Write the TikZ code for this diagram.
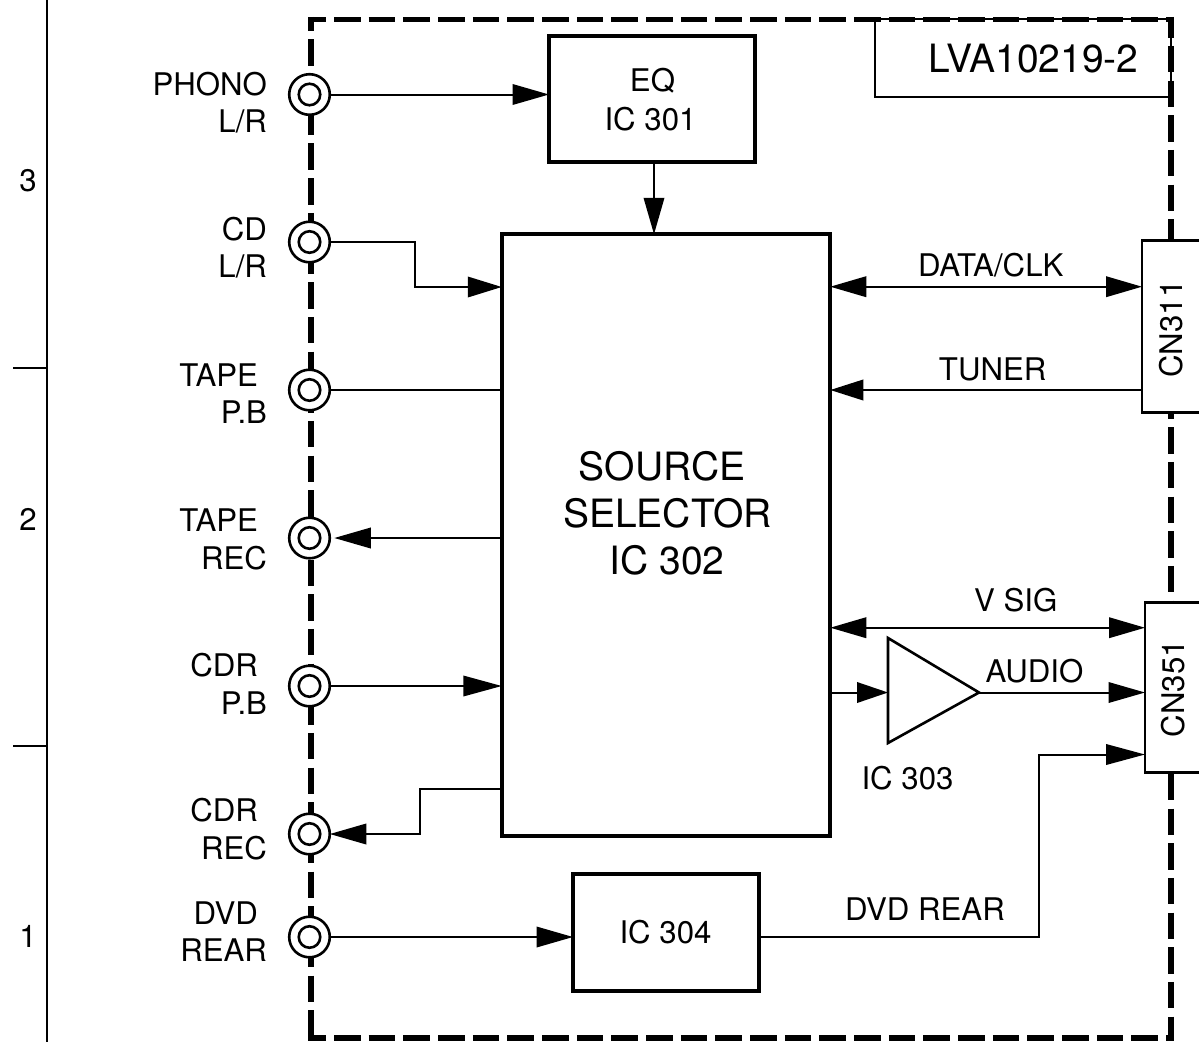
\documentclass[tikz,border=0pt]{standalone}
\usepackage{fontspec}
\setmainfont{TeX Gyre Heros}
\usetikzlibrary{arrows.meta,calc}
\tikzset{
  x=1pt,y=-1pt,
  txt/.style={inner sep=0pt,outer sep=0pt,font=\fontsize{31.2}{36}\selectfont,text=black},
  rlab/.style={txt,anchor=base east},
  clab/.style={txt,anchor=base},
  biglab/.style={txt,anchor=base,font=\fontsize{39}{44}\selectfont},
  frame/.style={line width=5.5pt,dash pattern=on 26.5pt off 8.17pt,dash phase=#1},
  heavybox/.style={draw,fill=white,line width=4pt,inner sep=0pt,outer sep=0pt,rectangle},
  thinbox/.style={draw,fill=white,line width=2.6pt,inner sep=0pt,outer sep=0pt,rectangle},
  jackout/.style={draw,circle,fill=white,line width=2.6pt,minimum size=40.6pt,inner sep=0pt,outer sep=0pt},
  jackin/.style={draw,circle,line width=2.6pt,minimum size=21.5pt,inner sep=0pt,outer sep=0pt},
  wire/.style={line width=2pt},
  sig/.style={wire,-{Triangle[length=#1,width=20.5pt]}},
  sig/.default=36.5pt,
  bisig/.style={wire,{Triangle[length=36pt,width=20.5pt]}-{Triangle[length=36pt,width=20.5pt]}},
  rule/.style={line width=2pt},
}
\begin{document}
\begin{tikzpicture}
\useasboundingbox (0,0) rectangle (1199,1042);
\clip (0,0) rectangle (1199,1042);
% page ruler
\coordinate (rtop) at (47,0);
\coordinate (rbot) at (47,1042);
\coordinate (t1a) at (13,368);
\coordinate (t2a) at (13,746);
\draw[rule] (rtop) -- (rbot);
\draw[rule] (t1a) -- (t1a -| rtop);
\draw[rule] (t2a) -- (t2a -| rtop);
\node[clab] (n3) at (28,191.5) {3};
\node[clab] (n2) at (28,530) {2};
\node[clab] (n1) at (28,947) {1};
% title box and frame
\node[thinbox,minimum width=296pt,minimum height=78pt] (lva) at (1023,58) {};
\coordinate (ftl) at (311,19.5);
\coordinate (ftr) at (1171,19.5);
\coordinate (fbl) at (311,1038);
\coordinate (fbr) at (1171,1038);
\draw[frame=8.85pt] ([xshift=-2.75pt]ftl) -- ([xshift=2.75pt]ftr);
\draw[frame=8.85pt] ([xshift=-2.75pt]fbl) -- ([xshift=2.75pt]fbr);
\draw[frame=11.95pt] ([yshift=2.75pt]ftl) -- ([yshift=-2.75pt]fbl);
\draw[frame=5.55pt] ([yshift=2.75pt]ftr) -- ([yshift=-2.75pt]fbr);
\node[biglab] (lvat) at (1033.5,72.5) {LVA10219-2};
% blocks
\node[heavybox,minimum width=206pt,minimum height=126pt] (eq) at (652,98.5) {};
\node[heavybox,minimum width=328.5pt,minimum height=601.5pt] (sel) at (666,535) {};
\node[heavybox,minimum width=186pt,minimum height=117pt] (ic304) at (666,932.5) {};
\node[thinbox,minimum width=80pt,minimum height=171.5pt] (cn311) at (1182,326.5) {};
\node[thinbox,minimum width=80pt,minimum height=170.5pt] (cn351) at (1185,687.5) {};
\coordinate (a1) at (888,638);
\coordinate (a2) at (888,743);
\coordinate (a3) at (979,692.5);
\draw[line width=2.6pt,fill=white,miter limit=6] (a1) -- (a3) -- (a2) -- cycle;
% jacks
\foreach \n/\y in {phono/94.5,cd/242,tapepb/390,taperec/538,cdrpb/686,cdrrec/834,dvd/937}{
  \node[jackout] (\n) at (309.5,\y) {};
  \node[jackin] (\n i) at (\n) {};
}
% helper coordinates
\coordinate (cdv) at (415,287);
\coordinate (dataL) at (sel.east |- 0,286.7);
\coordinate (tunerL) at (sel.east |- 0,390);
\coordinate (vsigL) at (sel.east |- 0,627.7);
\coordinate (ampL) at (sel.east |- a3);
\coordinate (recL) at (sel.west |- 0,788.5);
\coordinate (recM) at (420,788.5);
\coordinate (dvdV) at (1039,754.5);
% connectors
\draw[sig] (phono.east) -- (phono.east -| eq.west);
\draw[sig] (eq.south -| 654,0) -- (654,0 |- sel.north);
\draw[sig=34pt] (cd.east) -| (cdv) -- (cdv -| sel.west);
\draw[wire] (tapepb.east) -- (tapepb.east -| sel.west);
\draw[sig] (taperec.east -| sel.west) -- ([xshift=4.5pt]taperec.east);
\draw[sig=38.5pt] (cdrpb.east) -- (cdrpb.east -| sel.west);
\draw[sig] (recL) -- (recM) |- (cdrrec.east);
\draw[sig] (dvd.east) -- (dvd.east -| ic304.west);
\draw[bisig] (dataL) -- (dataL -| cn311.west);
\draw[sig=33pt] (tunerL -| cn311.west) -- (tunerL);
\draw[bisig] (vsigL) -- (vsigL -| cn351.west);
\draw[sig=31pt] (ampL) -- (ampL -| a1);
\draw[sig] (a3) -- (a3 -| cn351.west);
\draw[sig=39pt] (ic304.east |- 0,936.7) -| (dvdV) -- (dvdV -| cn351.west);
% block text
\node[clab] (eq1) at (652.5,91) {EQ};
\node[clab] (eq2) at (650.5,130) {IC 301};
\node[biglab] (s1) at (662,480) {SOURCE};
\node[biglab] (s2) at (667.5,527) {SELECTOR};
\node[biglab] (s3) at (667,574) {IC 302};
\node[clab] (ic304t) at (665.5,943) {IC 304};
\node[clab] (ic303t) at (907.5,789) {IC 303};
\node[clab] (l1) at (990.7,276) {DATA/CLK};
\node[clab] (l2) at (992.7,380.5) {TUNER};
\node[clab] (l3) at (1015.7,611.5) {V SIG};
\node[clab] (l4) at (1034.5,682.5) {AUDIO};
\node[clab] (l5) at (925,920.5) {DVD REAR};
\node[txt,rotate=90] (c1) at (1171,329) {CN311};
\node[txt,rotate=90] (c2) at (1173,688.5) {CN351};
% jack labels
\node[rlab] (j1a) at (267,95) {PHONO};
\node[rlab] (j1b) at (267,132.5) {L/R};
\node[rlab] (j2a) at (267,240) {CD};
\node[rlab] (j2b) at (267,277.5) {L/R};
\node[rlab] (j3a) at (258,386) {TAPE};
\node[rlab] (j3b) at (267,423.5) {P.B};
\node[rlab] (j4a) at (258,531) {TAPE};
\node[rlab] (j4b) at (267,569) {REC};
\node[rlab] (j5a) at (258,676) {CDR};
\node[rlab] (j5b) at (267,714) {P.B};
\node[rlab] (j6a) at (258,821) {CDR};
\node[rlab] (j6b) at (267,859) {REC};
\node[rlab] (j7a) at (258,924) {DVD};
\node[rlab] (j7b) at (267,961) {REAR};
\end{tikzpicture}
\end{document}
